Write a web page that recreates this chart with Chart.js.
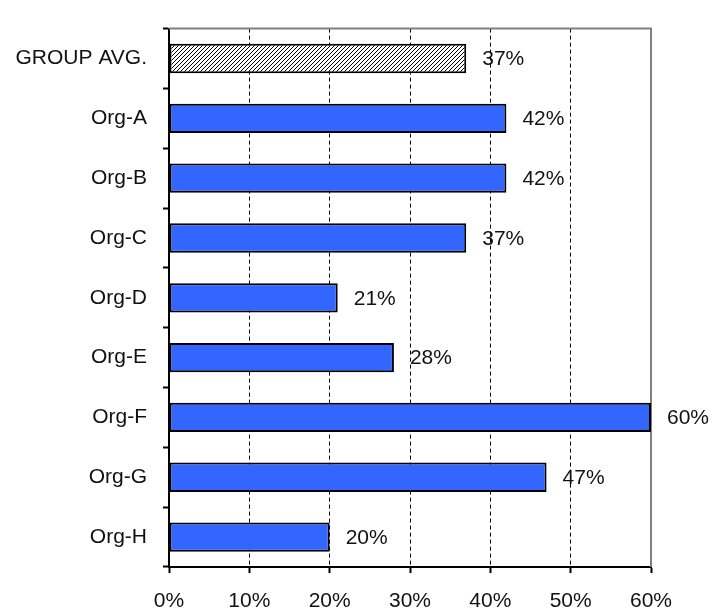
<!DOCTYPE html>
<html>
<head>
<meta charset="utf-8">
<script src="https://cdn.jsdelivr.net/npm/chart.js@4"></script>
<style>
  html, body { margin: 0; padding: 0; background: #fff; }
  #wrap { width: 712px; height: 613px; position: relative; }
</style>
</head>
<body>
<div id="wrap"><canvas id="orgChart"></canvas></div>
<script>
// Kategorien und Anteile pro Organisation
const categories = ['GROUP AVG.', 'Org-A', 'Org-B', 'Org-C', 'Org-D', 'Org-E', 'Org-F', 'Org-G', 'Org-H'];
const shares = [37, 42, 42, 37, 21, 28, 60, 47, 20];
const xTicks = [0, 10, 20, 30, 40, 50, 60];

const FONT = "'Liberation Sans', Arial, sans-serif";

// Schraffur für den Gruppendurchschnitt
function hatchPattern() {
    const c = document.createElement('canvas');
    c.width = 4; c.height = 4;
    const g = c.getContext('2d');
    g.fillStyle = '#fff';
    g.fillRect(0, 0, 4, 4);
    g.strokeStyle = '#000';
    g.lineWidth = 1;
    g.beginPath();
    g.moveTo(0, 4); g.lineTo(4, 0);
    g.moveTo(-1, 1); g.lineTo(1, -1);
    g.moveTo(3, 5); g.lineTo(5, 3);
    g.stroke();
    return g.createPattern(c, 'repeat');
}

const barColors = categories.map((c, i) => i === 0 ? hatchPattern() : '#3366ff');

// grauer Rahmen oben und rechts
const framePlugin = {
    id: 'frame',
    beforeDatasetsDraw(chart) {
        const { ctx, chartArea } = chart;
        ctx.save();
        ctx.strokeStyle = '#808080';
        ctx.lineWidth = 2;
        ctx.beginPath();
        ctx.moveTo(chartArea.left, chartArea.top);
        ctx.lineTo(chartArea.right, chartArea.top);
        ctx.lineTo(chartArea.right, chartArea.bottom);
        ctx.stroke();
        ctx.restore();
    }
};

// Prozentwerte rechts neben den Balken
const valueLabels = {
    id: 'valueLabels',
    afterDatasetsDraw(chart) {
        const { ctx } = chart;
        const meta = chart.getDatasetMeta(0);
        ctx.save();
        ctx.font = '21px ' + FONT;
        ctx.fillStyle = '#111';
        ctx.textAlign = 'left';
        ctx.textBaseline = 'middle';
        meta.data.forEach((bar, i) => {
            ctx.fillText(shares[i] + '%', bar.x + 16, bar.y + 1);
        });
        ctx.restore();
    }
};

const config = {
    type: 'bar',
    data: {
        labels: categories,
        datasets: [{
            data: shares,
            backgroundColor: barColors,
            borderColor: '#000',
            borderWidth: 2,
            borderSkipped: false,
            categoryPercentage: 1,
            barPercentage: 0.49
        }]
    },
    options: {
        indexAxis: 'y',
        responsive: true,
        maintainAspectRatio: false,
        animation: false,
        layout: { padding: { top: 13, right: 61, bottom: 0, left: 0 } },
        plugins: {
            legend: { display: false },
            tooltip: { enabled: false }
        },
        scales: {
            x: {
                min: 0,
                max: 60,
                afterBuildTicks: (scale) => { scale.ticks = xTicks.map(v => ({ value: v })); },
                afterFit: (scale) => { scale.height = 46; },
                ticks: {
                    color: '#111',
                    font: { family: FONT, size: 21 },
                    padding: 16,
                    maxRotation: 0,
                    callback: (v) => v + '%'
                },
                grid: {
                    drawOnChartArea: true,
                    color: (ctx) => (ctx.tick && (ctx.tick.value === 0 || ctx.tick.value === 60)) ? 'rgba(0,0,0,0)' : '#000',
                    lineWidth: 1,
                    tickColor: '#000',
                    tickLength: 6,
                    tickWidth: 2,
                    tickBorderDash: []
                },
                border: { display: true, color: '#000', width: 2, dash: [4, 3] }
            },
            y: {
                afterFit: (scale) => { scale.width = 169; },
                ticks: {
                    color: '#111',
                    font: { family: FONT, size: 21 },
                    padding: 16
                },
                grid: {
                    offset: true,
                    drawOnChartArea: false,
                    tickColor: '#000',
                    tickLength: 6,
                    tickWidth: 2
                },
                border: { display: true, color: '#000', width: 2 }
            }
        }
    },
    plugins: [framePlugin, valueLabels]
};

const ctx = document.getElementById('orgChart').getContext('2d');
const orgChart = new Chart(ctx, config);
</script>
</body>
</html>
